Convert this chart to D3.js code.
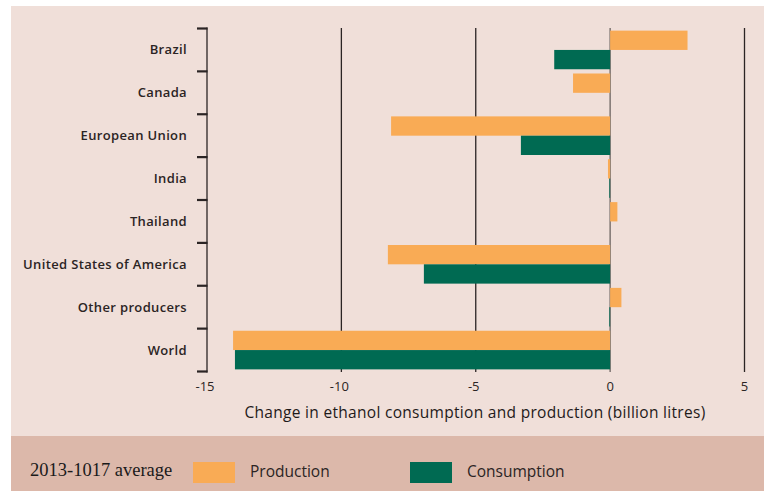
<!DOCTYPE html>
<html><head><meta charset="utf-8">
<script src="https://cdn.jsdelivr.net/npm/d3@7"></script>
<style>html,body{margin:0;padding:0;background:#fff;}svg{display:block;}</style>
</head><body>
<svg id="c" width="764" height="491"></svg>
<script>
const categories = ["Brazil","Canada","European Union","India","Thailand","United States of America","Other producers","World"];
const production = [2.88, -1.38, -8.15, -0.08, 0.27, -8.27, 0.42, -14.03];
const consumption = [-2.08, 0, -3.32, -0.03, 0, -6.93, -0.03, -13.96];
const xTicks = [-15, -10, -5, 0, 5];
const seriesNames = ["Production", "Consumption"];
const seriesColors = ["#f9ab55", "#006a52"];
const legendNote = "2013-1017 average";
const axisTitle = "Change in ethanol consumption and production (billion litres)";

const svg = d3.select("#c");
const sans = "'Open Sans','Noto Sans',sans-serif";

svg.append("rect").attr("x",11).attr("y",6).attr("width",753).attr("height",430).attr("fill","#f0dfd9");
svg.append("rect").attr("x",11).attr("y",436).attr("width",753).attr("height",55).attr("fill","#dcb8aa");

const x = d3.scaleLinear().domain([-15,5]).range([207,744.5]);
const y = d3.scaleBand().domain(categories).range([28.5,371.5]).paddingInner(0).paddingOuter(0);
const sub = d3.scaleBand().domain(seriesNames).range([0,y.bandwidth()]).paddingInner(0).paddingOuter(0.11);

// gridlines
const g = svg.append("g");
g.selectAll("line.grid").data(xTicks.filter(d=>d>-15)).join("line")
  .attr("x1",d=>x(d)).attr("x2",d=>x(d)).attr("y1",28).attr("y2",372)
  .attr("stroke",d=>d===0?"#6b6360":"#2b2424").attr("stroke-width",1.3);

// bars
const data = [];
categories.forEach((c,i)=>{
  data.push({c, s:seriesNames[0], v:production[i]});
  data.push({c, s:seriesNames[1], v:consumption[i]});
});
svg.append("g").selectAll("rect").data(data.filter(d=>d.v!==0)).join("rect")
  .attr("x",d=>x(Math.min(0,d.v)))
  .attr("width",d=>Math.abs(x(d.v)-x(0)))
  .attr("y",d=>y(d.c)+sub(d.s))
  .attr("height",sub.bandwidth())
  .attr("fill",d=>seriesColors[seriesNames.indexOf(d.s)]);

// y axis
const yAxisG = svg.append("g");
yAxisG.append("line").attr("x1",207).attr("x2",207).attr("y1",27.5).attr("y2",372.5).attr("stroke","#2b2424").attr("stroke-width",1.3);
const tickYs = categories.map(c=>y(c)).concat([y.range()[1]]);
yAxisG.selectAll("line.t").data(tickYs).join("line").attr("class","t")
  .attr("x1",197).attr("x2",207.5).attr("y1",d=>d).attr("y2",d=>d)
  .attr("stroke","#2b2424").attr("stroke-width",2.2);
yAxisG.selectAll("text").data(categories).join("text")
  .attr("x",187).attr("y",d=>y(d)+y.bandwidth()/2+4.5)
  .attr("text-anchor","end").attr("font-family",sans).attr("font-weight",600)
  .attr("font-size",13).attr("letter-spacing",0.35).attr("fill","#2b2424").text(d=>d);

// x tick labels
svg.append("g").selectAll("text").data(xTicks).join("text")
  .attr("x",d=>x(d)-(d<0?2:0)).attr("y",391)
  .attr("text-anchor","middle").attr("font-family",sans).attr("font-size",13)
  .attr("fill","#2b2424").text(d=>d);

svg.append("text").attr("x",475).attr("y",418).attr("text-anchor","middle")
  .attr("font-family",sans).attr("font-size",15.5).attr("letter-spacing",0.3)
  .attr("fill","#1f1a1a").text(axisTitle);

// legend
svg.append("text").attr("x",30).attr("y",476).attr("font-family","'Liberation Serif','Times New Roman',serif")
  .attr("font-size",18.5).attr("fill","#1a1a1a").text(legendNote);
const lx = [193, 410];
const lg = svg.append("g").selectAll("g").data(seriesNames).join("g");
lg.append("rect").attr("x",(d,i)=>lx[i]).attr("y",462).attr("width",42).attr("height",21)
  .attr("fill",(d,i)=>seriesColors[i]);
lg.append("text").attr("x",(d,i)=>lx[i]+57).attr("y",477).attr("font-family",sans)
  .attr("font-size",15.5).attr("fill","#2b2424").text(d=>d);
</script>
</body></html>
